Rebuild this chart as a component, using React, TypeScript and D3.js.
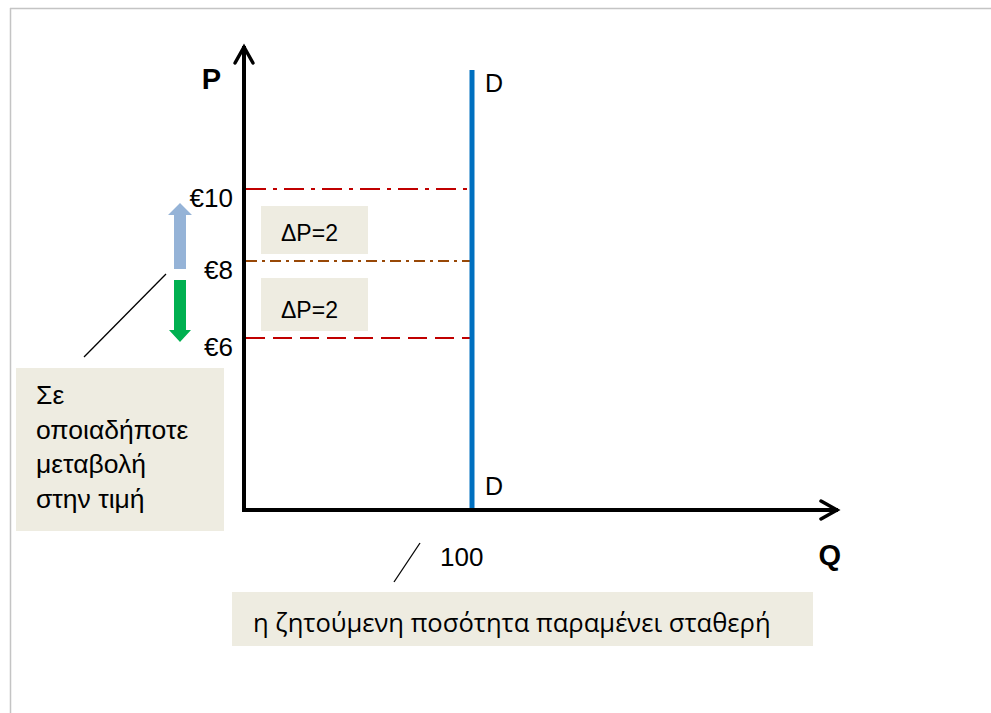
import React from "react";
import * as d3 from "d3";

const priceLevels = [10, 8, 6];
const priceLabels = ["€10", "€8", "€6"];
const priceColors = ["#C00000", "#984807", "#C00000"];
const priceDashes = ["20 7 4 7", "11 5 3 5", "19 8"];
const quantity = 100;
const quantityLabel = "100";
const deltaLabels = ["ΔP=2", "ΔP=2"];
const deltaPairs = [[10, 8], [8, 6]];
const noteLines = ["Σε", "οποιαδήποτε", "μεταβολή", "στην τιμή"];
const bottomNote = "η ζητούμενη ποσότητα παραμένει σταθερή";

const FONT = "'Liberation Sans', Arial, sans-serif";
const FONT2 = "'Open Sans', 'Noto Sans', sans-serif";

export default function App() {
  const y = d3.scaleLinear().domain([0, 6, 8, 10]).range([510, 338, 261, 189]);
  const x = d3.scaleLinear().domain([0, 100]).range([244, 472]);
  const x0 = x(0);
  const y0 = y(0);
  const qx = x(quantity);
  const axisTop = 46;
  const axisRight = 838;

  return (
    <svg width={991} height={713} style={{ position: "absolute", left: 0, top: 0 }} fontFamily={FONT}>
      <rect x={0} y={0} width={991} height={713} fill="#fff" />
      {/* frame */}
      <line x1={10} y1={8.5} x2={991} y2={8.5} stroke="#c4c4c4" strokeWidth={1.5} />
      <line x1={10.5} y1={8} x2={10.5} y2={713} stroke="#c4c4c4" strokeWidth={1.5} />

      {/* price lines */}
      {priceLevels.map((p, i) => (
        <line key={"pl" + i} x1={x0 + 2} x2={qx - 2} y1={y(p)} y2={y(p)}
          stroke={priceColors[i]} strokeWidth={2.2} strokeDasharray={priceDashes[i]} />
      ))}

      {/* delta boxes */}
      {deltaPairs.map((pr, i) => {
        const top = y(pr[0]) + 17;
        const bot = y(pr[1]) - 7;
        return (
          <g key={"db" + i}>
            <rect x={261} y={top} width={107} height={bot - top} fill="#EEECE1" />
            <text x={281} y={y(pr[1]) - 20} fontSize={23} fill="#000">{deltaLabels[i]}</text>
          </g>
        );
      })}

      {/* demand line */}
      <line x1={qx} x2={qx} y1={70} y2={y0} stroke="#0070C0" strokeWidth={5} />
      <text x={485} y={92} fontSize={25} fill="#000">D</text>
      <text x={485} y={495} fontSize={25} fill="#000">D</text>

      {/* axes */}
      <path d={`M${x0},${axisTop} L${x0},${y0} L${axisRight},${y0}`} fill="none" stroke="#000" strokeWidth={4} strokeLinejoin="miter" />
      <path d={`M${x0 - 9},${axisTop + 17} L${x0},${axisTop + 1} L${x0 + 9},${axisTop + 17}`} fill="none" stroke="#000" strokeWidth={3.5} strokeLinecap="round" />
      <path d={`M${axisRight - 17},${y0 - 9} L${axisRight - 1},${y0} L${axisRight - 17},${y0 + 9}`} fill="none" stroke="#000" strokeWidth={3.5} strokeLinecap="round" />
      <text x={221} y={89} fontSize={29} fontWeight="bold" textAnchor="end" fill="#000">P</text>
      <text x={841} y={565} fontSize={29} fontWeight="bold" textAnchor="end" fill="#000">Q</text>

      {/* price tick labels */}
      {priceLevels.map((p, i) => (
        <text key={"lab" + i} x={233} y={y(p) + 18} fontSize={26} textAnchor="end" fill="#000">{priceLabels[i]}</text>
      ))}
      <text x={440} y={566} fontSize={26} fill="#000">{quantityLabel}</text>

      {/* up/down arrows */}
      <path d={`M174,${y(8) + 8} L174,215 L168,215 L180,203 L192,215 L186,215 L186,${y(8) + 8} Z`} fill="#95B3D7" />
      <path d={`M174,280 L174,330 L169,330 L180,342 L191,330 L186,330 L186,280 Z`} fill="#00B050" />

      {/* leader lines */}
      <line x1={84} y1={357} x2={166} y2={274} stroke="#000" strokeWidth={1.3} />
      <line x1={394} y1={582} x2={420} y2={543} stroke="#000" strokeWidth={1.3} />

      {/* left note */}
      <rect x={16} y={368} width={208} height={163} fill="#EEECE1" />
      {noteLines.map((t, i) => (
        <text key={"nl" + i} x={36} y={404 + i * 34.7} fontSize={26.5} fill="#000">{t}</text>
      ))}

      {/* bottom note */}
      <rect x={232} y={592} width={581} height={54} fill="#EEECE1" />
      <text x={253} y={632} fontSize={25.6} fontFamily={FONT2} fill="#000">{bottomNote}</text>
    </svg>
  );
}
